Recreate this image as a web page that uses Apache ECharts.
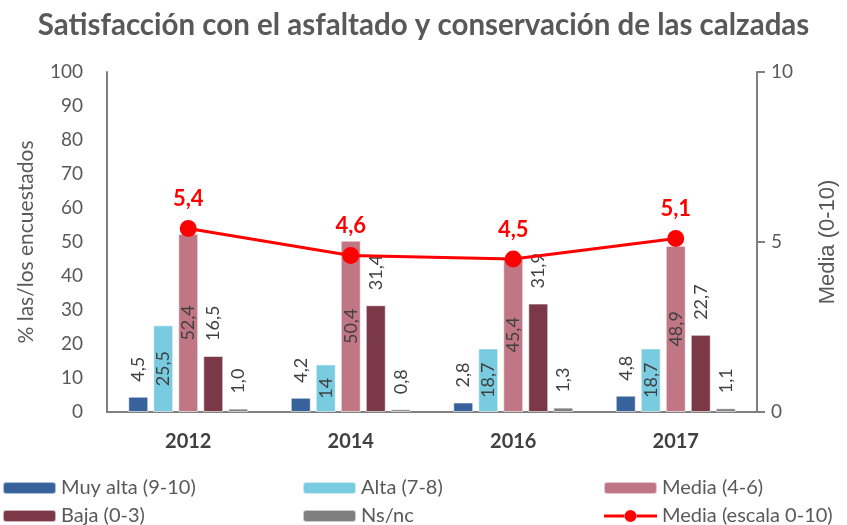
<!DOCTYPE html>
<html>
<head>
<meta charset="utf-8">
<script src="https://cdn.jsdelivr.net/npm/echarts@6/dist/echarts.min.js"></script>
<style>
html,body{margin:0;padding:0;background:#fff;}
#chart{width:847px;height:525px;}
</style>
</head>
<body>
<div id="chart"></div>
<script>
var categories = ['2012', '2014', '2016', '2017'];
var muyAlta = [4.5, 4.2, 2.8, 4.8];
var alta = [25.5, 14, 18.7, 18.7];
var media = [52.4, 50.4, 45.4, 48.9];
var baja = [16.5, 31.4, 31.9, 22.7];
var nsnc = [1.0, 0.8, 1.3, 1.1];
var mediaEscala = [5.4, 4.6, 4.5, 5.1];
var leftTicks = {min: 0, max: 100, interval: 10};
var rightTicks = {min: 0, max: 10, interval: 5};

var FONT = 'Lato';
var LABEL_COLOR = '#404040';
var AXIS_COLOR = '#595959';
var LINE_ICON = 'path://M0,4.5 H21 V7.5 H0 Z M32,4.5 H53 V7.5 H32 Z M20.5,6 A6,6 0 1,0 32.5,6 A6,6 0 1,0 20.5,6 Z';

function fmtFixed(p){ return p.value.toFixed(1).replace('.', ','); }
function fmtFree(p){ return String(p.value).replace('.', ','); }

function topLabel(fmt){
  return {show: true, position: 'top', rotate: 90, align: 'left', verticalAlign: 'middle',
    distance: 15, color: LABEL_COLOR, fontSize: 18, fontFamily: FONT, formatter: fmt};
}
function insideLabel(fmt){
  return {show: true, position: 'inside', rotate: 90, align: 'center', verticalAlign: 'middle',
    color: LABEL_COLOR, fontSize: 18, fontFamily: FONT, formatter: fmt};
}

function bar(name, data, color, label){
  return {name: name, type: 'bar', data: data, barWidth: 20, barGap: '25%',
    itemStyle: {color: color, borderColor: 'rgba(255,255,255,0.6)', borderWidth: 1},
    label: label, z: 2};
}

var chart = echarts.init(document.getElementById('chart'), null, {renderer: 'canvas'});
var legendText = {color: AXIS_COLOR, fontSize: 20, fontFamily: FONT, lineHeight: 20};
function legendCol(left, data){
  return {orient: 'vertical', left: left, top: 478, height: 60, padding: 0,
    itemWidth: 53, itemHeight: 12, itemGap: 8, data: data, textStyle: legendText};
}
chart.setOption({
  animation: false,
  textStyle: {fontFamily: FONT},
  title: {text: 'Satisfacción con el asfaltado y conservación de las calzadas', left: 'center', top: 5,
    textStyle: {color: AXIS_COLOR, fontSize: 29.5, fontWeight: 'bold', fontFamily: FONT}},
  legend: [
    legendCol(2, ['Muy alta (9-10)', 'Baja (0-3)']),
    legendCol(302, ['Alta (7-8)', 'Ns/nc']),
    legendCol(603, ['Media (4-6)', {name: 'Media (escala 0-10)', icon: LINE_ICON}])
  ],
  grid: {left: 107, right: 83, top: 72, bottom: 113, containLabel: false},
  xAxis: {type: 'category', data: categories,
    axisLine: {lineStyle: {color: '#808080', width: 2}},
    axisTick: {show: false},
    axisLabel: {color: LABEL_COLOR, fontSize: 20, fontWeight: 'bold', fontFamily: FONT, margin: 20}},
  yAxis: [
    {type: 'value', min: leftTicks.min, max: leftTicks.max, interval: leftTicks.interval,
      name: '% las/los encuestados', nameLocation: 'middle', nameRotate: 90, nameGap: 70,
      nameTextStyle: {color: AXIS_COLOR, fontSize: 21, fontFamily: FONT},
      axisLine: {show: true, lineStyle: {color: '#808080', width: 2}},
      axisTick: {show: false}, splitLine: {show: false},
      axisLabel: {color: AXIS_COLOR, fontSize: 19, fontFamily: FONT, margin: 24}},
    {type: 'value', min: rightTicks.min, max: rightTicks.max, interval: rightTicks.interval, position: 'right',
      name: 'Media (0-10)', nameLocation: 'middle', nameRotate: 90, nameGap: 60,
      nameTextStyle: {color: AXIS_COLOR, fontSize: 22, fontFamily: 'Liberation Sans'},
      axisLine: {show: true, lineStyle: {color: '#808080', width: 2}},
      axisTick: {show: true, length: 8, lineStyle: {color: '#808080', width: 2}}, splitLine: {show: false},
      axisLabel: {color: AXIS_COLOR, fontSize: 19, fontFamily: FONT, margin: 14}}
  ],
  series: [
    bar('Muy alta (9-10)', muyAlta, '#37629c', topLabel(fmtFixed)),
    bar('Alta (7-8)', alta, '#79cbe0', insideLabel(fmtFree)),
    bar('Media (4-6)', media, '#c07684', insideLabel(fmtFixed)),
    bar('Baja (0-3)', baja, '#7b3947', topLabel(fmtFixed)),
    bar('Ns/nc', nsnc, '#7f7f7f', topLabel(fmtFixed)),
    {name: 'Media (escala 0-10)', type: 'line', yAxisIndex: 1, data: mediaEscala,
      symbol: 'circle', symbolSize: 17, z: 5,
      lineStyle: {color: '#ff0000', width: 3}, itemStyle: {color: '#ff0000'},
      label: {show: true, position: 'top', distance: 10, color: '#ff0000', fontSize: 22,
        fontWeight: 'bold', fontFamily: FONT, formatter: fmtFixed}}
  ]
});
</script>
</body>
</html>
